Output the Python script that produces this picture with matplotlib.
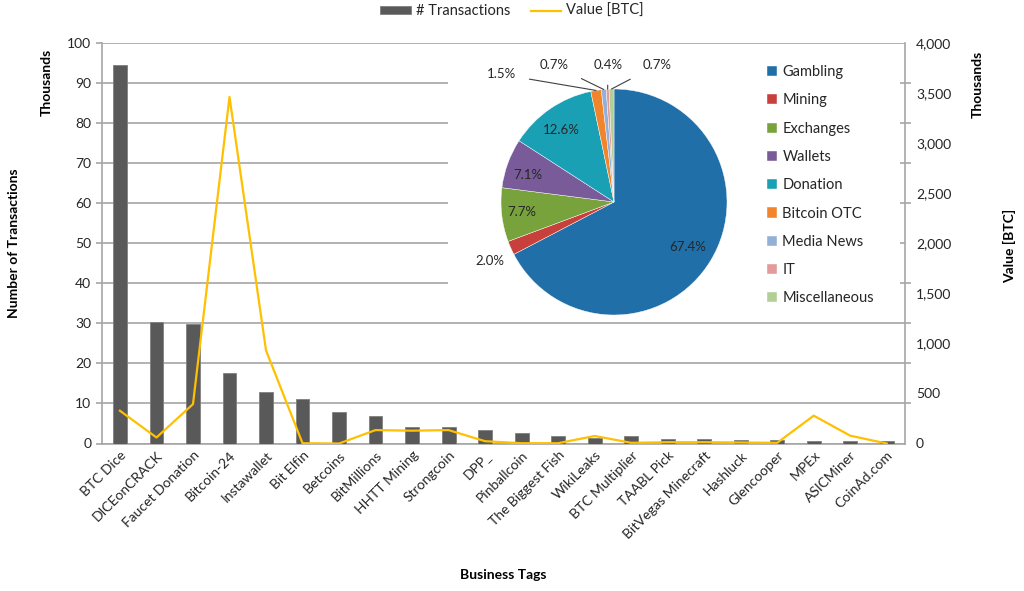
import numpy as np
import matplotlib
matplotlib.use('Agg')
import matplotlib.pyplot as plt
from matplotlib.lines import Line2D
from matplotlib.patches import Rectangle

plt.rcParams['font.family'] = ['Lato', 'DejaVu Sans']

# Datos de las barras y la linea
tags = ['BTC Dice', 'DICEonCRACK', 'Faucet Donation', 'Bitcoin-24', 'Instawallet',
        'Bit Elfin', 'Betcoins', 'BitMillions', 'HHTT Mining', 'Strongcoin', 'DPP_',
        'Pinballcoin', 'The Biggest Fish', 'WikiLeaks', 'BTC Multiplier', 'TAABL Pick',
        'BitVegas Minecraft', 'Hashluck', 'Glencooper', 'MPEx', 'ASICMiner', 'CoinAd.com']
transactions = [94.4, 30.3, 29.8, 17.5, 12.8, 11.0, 7.8, 6.8, 4.0, 4.0, 3.4,
                2.7, 1.8, 1.4, 1.8, 1.0, 1.0, 0.8, 0.8, 0.5, 0.5, 0.5]
value_btc = [327, 60, 393, 3462, 930, 3, 0, 134, 128, 134, 23,
             3, 3, 75, 7, 13, 13, 10, 7, 278, 78, 0]

# Datos del grafico circular
categories = ['Gambling', 'Mining', 'Exchanges', 'Wallets', 'Donation',
              'Bitcoin OTC', 'Media News', 'IT', 'Miscellaneous']
shares = [67.4, 2.0, 7.7, 7.1, 12.6, 1.5, 0.7, 0.4, 0.7]
pie_colors = ['#216FA9', '#C8403B', '#78A33C', '#7A5B9A', '#1AA0B5',
              '#F2852B', '#93B0D6', '#E39A9A', '#B2CF95']

grid_color = '#A6A6A6'
text_color = '#262626'

fig = plt.figure(figsize=(10.24, 5.91), dpi=100)
ax = fig.add_axes([101.7 / 1024, 1 - 443.5 / 591, (905 - 101.7) / 1024, 400.5 / 591])
x = np.arange(len(tags))

# Barras de transacciones
ax.bar(x, transactions, width=0.38, color='#595959', edgecolor='#7F7F7F', linewidth=0.6, zorder=3)
ax.set_xlim(-0.5, len(tags) - 0.5)
ax.set_ylim(0, 100)
ax.set_yticks(range(0, 101, 10))
ax.yaxis.grid(True, color=grid_color, linewidth=1.2, zorder=0)
ax.set_axisbelow(True)
for side in ['top', 'right']:
    ax.spines[side].set_visible(False)
for side in ['left', 'bottom']:
    ax.spines[side].set_color(grid_color)
    ax.spines[side].set_linewidth(1.2)
ax.tick_params(axis='y', colors=grid_color, labelcolor=text_color, labelsize=10, length=4, width=1.2)
ax.tick_params(axis='x', length=0, labelsize=10, labelcolor=text_color, pad=4)
ax.set_xticks(x)
ax.set_xticklabels(tags, rotation=45, ha='right', rotation_mode='anchor')

# Linea de valor en eje secundario
ax2 = ax.twinx()
ax2.plot(x, value_btc, color='#FFC000', linewidth=1.6, zorder=4)
ax2.set_ylim(0, 4000)
ax2.set_yticks(range(0, 4001, 500))
ax2.set_yticklabels([f'{v:,}' for v in range(0, 4001, 500)])
ax2.set_yticks(range(0, 4001, 400), minor=True)
ax2.tick_params(axis='y', which='major', length=0, labelsize=10, labelcolor=text_color, pad=8)
ax2.tick_params(axis='y', which='minor', length=4, width=1.2, colors=grid_color)
for side in ['top', 'left', 'bottom']:
    ax2.spines[side].set_visible(False)
ax2.spines['right'].set_color(grid_color)
ax2.spines['right'].set_linewidth(1.2)

# Titulos de ejes
fig.text(14 / 1024, 1 - 243 / 591, 'Number of Transactions', rotation=90, ha='center', va='center',
         fontsize=10, fontweight='bold', color='black')
fig.text(47 / 1024, 1 - 82 / 591, 'Thousands', rotation=90, ha='center', va='center',
         fontsize=10, fontweight='bold', color='black')
fig.text(978 / 1024, 1 - 84 / 591, 'Thousands', rotation=90, ha='center', va='center',
         fontsize=10, fontweight='bold', color='black')
fig.text(1010 / 1024, 1 - 246 / 591, 'Value [BTC]', rotation=90, ha='center', va='center',
         fontsize=10, fontweight='bold', color='black')
fig.text(503 / 1024, 1 - 575 / 591, 'Business Tags', ha='center', va='center',
         fontsize=10, fontweight='bold', color='black')

# Leyenda superior
handles = [Rectangle((0, 0), 1, 1, facecolor='#595959', edgecolor='#7F7F7F', linewidth=0.6),
           Line2D([0], [0], color='#FFC000', linewidth=1.6)]
fig.legend(handles, ['# Transactions', 'Value [BTC]'], loc='center', bbox_to_anchor=(512 / 1024, 1 - 11 / 591),
           ncol=2, frameon=False, fontsize=10.5, handlelength=2.1, handleheight=0.4,
           columnspacing=1.4, handletextpad=0.35, labelcolor=text_color)

# Fondo blanco del grafico insertado (tapa la cuadricula)
bg = fig.add_axes([448 / 1024, 1 - 320 / 591, (900 - 448) / 1024, 275 / 591])
bg.set_facecolor('white')
bg.set_xticks([])
bg.set_yticks([])
for s in bg.spines.values():
    s.set_visible(False)

# Grafico circular
r = 113
pax = fig.add_axes([(614 - r) / 1024, (591 - 202 - r) / 591, 2 * r / 1024, 2 * r / 591])
wedges, _ = pax.pie(shares, colors=pie_colors, startangle=90, counterclock=False, radius=1,
                    wedgeprops=dict(edgecolor='white', linewidth=0.3))
pax.set_xlim(-1, 1)
pax.set_ylim(-1, 1)
pax.set_aspect('equal')
pax.axis('off')

# Etiquetas de porcentaje
inside = {0: (0.65, -0.4), 2: (-0.82, -0.09), 3: (-0.76, 0.24), 4: (-0.47, 0.64)}
outside = {1: (-1.10, -0.52), 5: (-1.00, 1.13), 6: (-0.53, 1.21), 7: (-0.05, 1.21), 8: (0.38, 1.21)}
for i, w in enumerate(wedges):
    label = f'{shares[i]:.1f}%'
    if i in inside:
        pax.text(*inside[i], label, ha='center', va='center', fontsize=9.5, color=text_color)
    elif i in outside:
        ang = np.deg2rad((w.theta1 + w.theta2) / 2)
        tx, ty = outside[i]
        if i == 1:
            pax.text(tx, ty, label, ha='center', va='center', fontsize=9.5, color=text_color)
        else:
            pax.annotate(label, xy=(np.cos(ang) * 1.0, np.sin(ang) * 1.0), xytext=(tx, ty),
                         ha='center', va='center', fontsize=9.5, color=text_color,
                         arrowprops=dict(arrowstyle='-', color='#404040', linewidth=0.8,
                                         shrinkA=8, shrinkB=0),
                         annotation_clip=False)

# Leyenda del grafico circular
fig.legend(wedges, categories, loc='upper left', bbox_to_anchor=(754 / 1024, 1 - 52 / 591),
           frameon=False, fontsize=10.5, handlelength=0.7, handleheight=0.7,
           handletextpad=0.35, labelspacing=0.98, labelcolor=text_color)

fig.savefig('out.png', dpi=100)
